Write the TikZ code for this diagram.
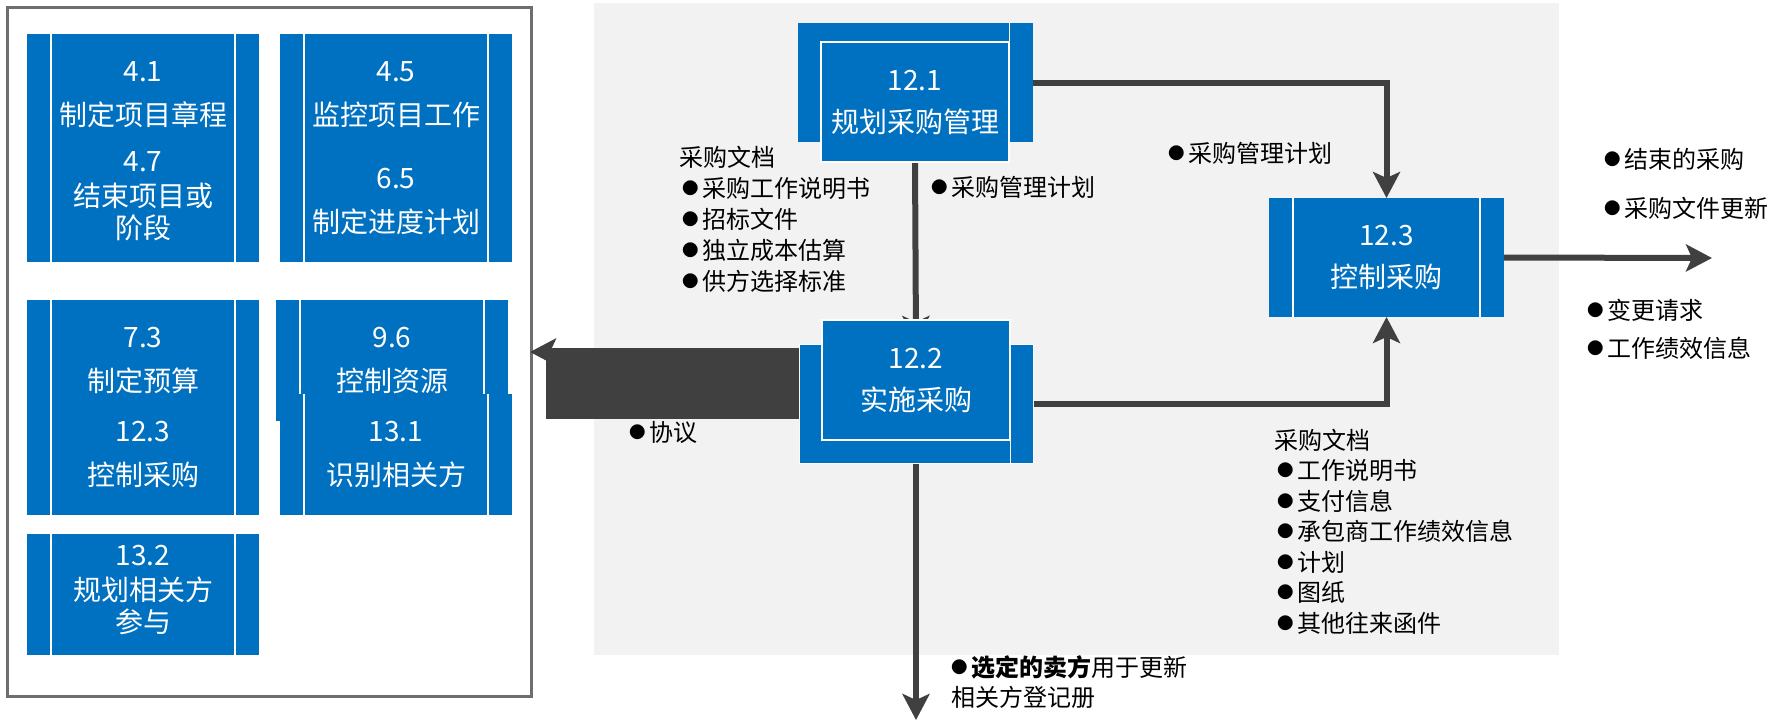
\documentclass[tikz,border=0pt]{standalone}
\usepackage{fontspec}
\setmainfont{Noto Sans CJK SC}
\usetikzlibrary{arrows.meta}
\definecolor{pblue}{HTML}{0070C0}
\definecolor{darkg}{HTML}{404040}
\definecolor{panel}{HTML}{F2F2F2}
\definecolor{frameg}{HTML}{6E6E6E}
\pgfdeclarelayer{back}
\pgfdeclarelayer{mid}
\pgfsetlayers{back,mid,main}
\newcommand{\mybul}{\makebox[23pt][l]{\hspace{3pt}\raisebox{3pt}{\fontsize{16.5}{16.5}\selectfont ●}}}
\begin{document}
\begin{tikzpicture}[x=1pt,y=-1pt,
  pfill/.style={fill=pblue, draw=none, inner sep=0pt, outer sep=0pt},
  pbox/.style={pfill, minimum width=232pt, anchor=north west,
    path picture={\draw[white,line width=1.5pt]
      ([xshift=24pt]path picture bounding box.north west) -- ([xshift=24pt]path picture bounding box.south west)
      ([xshift=-24pt]path picture bounding box.north east) -- ([xshift=-24pt]path picture bounding box.south east);}},
  btxt/.style={text=white, font=\fontsize{28}{32}\selectfont, align=center, inner sep=0pt},
  ltxt/.style={text=black, font=\fontsize{24}{31}\selectfont, align=left, inner sep=0pt, anchor=west},
  flow/.style={draw=darkg, line width=6pt, -{Stealth[length=26pt,width=27pt,inset=6pt]}},
]
\useasboundingbox (0,0) rectangle (1784,721);

% backgrounds
\begin{pgfonlayer}{back}
  \fill[white] (0,0) rectangle (1784,721);
  \node[fill=panel, draw=none, inner sep=0pt, minimum width=965pt, minimum height=652pt, anchor=north west] (panelbg) at (594,3) {};
  \node[fill=white, draw=frameg, line width=2.5pt, inner sep=0pt, minimum width=524pt, minimum height=689pt, anchor=north west] (frame) at (6,6) {};
\end{pgfonlayer}

% left panel boxes
\node[pbox, minimum height=121pt] (b41) at (27,34) {};
\node[btxt] (t41) at (b41.center) {4.1\\[12pt]制定项目章程};
\node[pbox, minimum height=107pt] (b47) at (27,155) {};
\node[btxt] (t47) at ([yshift=12pt]b47.center) {4.7\\[3pt]结束项目或\\阶段};
\node[pbox, minimum height=121pt] (b45) at (280,34) {};
\node[btxt] (t45) at (b45.center) {4.5\\[12pt]监控项目工作};
\node[pbox, minimum height=107pt] (b65) at (280,155) {};
\node[btxt] (t65) at ([yshift=7pt]b65.center) {6.5\\[12pt]制定进度计划};
\node[pbox, minimum height=94pt] (b73) at (27,300) {};
\node[btxt] (t73) at ([yshift=-13pt]b73.center) {7.3\\[12pt]制定预算};
\node[pbox, minimum height=121pt] (b96) at (276,300) {};
\node[btxt] (t96) at (b96.center) {9.6\\[12pt]控制资源};
\node[pbox, minimum height=121pt] (b123) at (27,394) {};
\node[btxt] (t123) at (b123.center) {12.3\\[12pt]控制采购};
\node[pbox, minimum height=121pt] (b131) at (280,394) {};
\node[btxt] (t131) at (b131.center) {13.1\\[12pt]识别相关方};
\node[pbox, minimum height=121pt] (b132) at (27,534) {};
\node[btxt] (t132) at ([yshift=4.5pt]b132.center) {13.2\\[3pt]规划相关方\\参与};

% texts
\node[ltxt] (docs1) at (679,219.5) {采购文档\\\mybul 采购工作说明书\\\mybul 招标文件\\\mybul 独立成本估算\\\mybul 供方选择标准};
\node[ltxt] (pmp1) at (928,187) {\mybul 采购管理计划};
\node[ltxt] (pmp2) at (1165,153) {\mybul 采购管理计划};
\node[ltxt] (closed) at (1601,159) {\mybul 结束的采购};
\node[ltxt] (docupd) at (1601,208) {\mybul 采购文件更新};
\node[ltxt] (cr) at (1584,310) {\mybul 变更请求};
\node[ltxt] (wpi) at (1584,348) {\mybul 工作绩效信息};
\node[ltxt, font=\fontsize{24}{30.5}\selectfont] (docs2) at (1274,531.5) {采购文档\\\mybul 工作说明书\\\mybul 支付信息\\\mybul 承包商工作绩效信息\\\mybul 计划\\\mybul 图纸\\\mybul 其他往来函件};
\node[ltxt] (agr) at (626,432) {\mybul 协议};
\node[ltxt, font=\fontsize{24}{30}\selectfont] (sel) at (948,682) {\mybul\textbf{选定的卖方}用于更新\\\hspace{3pt}相关方登记册};

% dark block
\node[fill=darkg, draw=none, inner sep=0pt, minimum width=256pt, minimum height=71pt, anchor=north west] (blk) at (546,348) {};

% 12.1
\node[pfill, minimum width=235pt, minimum height=119pt, anchor=north west] (p121o) at (798,23) {};
\draw[white, line width=1.5pt] ([xshift=-23.5pt]p121o.north east) -- ([xshift=-23.5pt]p121o.south east);
\node[pfill, btxt, draw=white, line width=1.5pt, minimum width=188pt, minimum height=120pt, anchor=north west] (p121) at (821,42) {12.1\\[10pt]规划采购管理};

% 12.2
\node[pfill, draw=white, line width=1pt, minimum width=234pt, minimum height=119pt, anchor=north west] (p122o) at (799,344) {};
\draw[white, line width=1.5pt] ([xshift=-22.5pt]p122o.north east) -- ([xshift=-22.5pt]p122o.south east);
\node[pfill, btxt, draw=white, line width=1.5pt, minimum width=188pt, minimum height=120pt, anchor=north west] (p122) at (822,320) {12.2\\[10pt]实施采购};

% 12.3
\node[pbox, minimum width=235pt, minimum height=119pt] (p123) at (1269,198) {};
\node[btxt] (t123b) at (p123.center) {12.3\\[10pt]控制采购};

% end points
\coordinate (outL) at (530,352);
\coordinate (outR) at (1712,258);
\coordinate (outD) at (916,720);

% connectors
\begin{pgfonlayer}{mid}
  \draw[flow] (p121o.east) -| (p123.north);
  \draw[flow] (p122o.east) -| (p123.south);
  \draw[flow] (p123.east) -- (outR);
  \draw[flow] (p122o.south) -- (outD);
  \draw[flow] (p121.south) -- ([yshift=-22pt]p122.north);
  \draw[flow] ([yshift=-4pt]blk.north east) -- (outL);
\end{pgfonlayer}
\end{tikzpicture}
\end{document}
